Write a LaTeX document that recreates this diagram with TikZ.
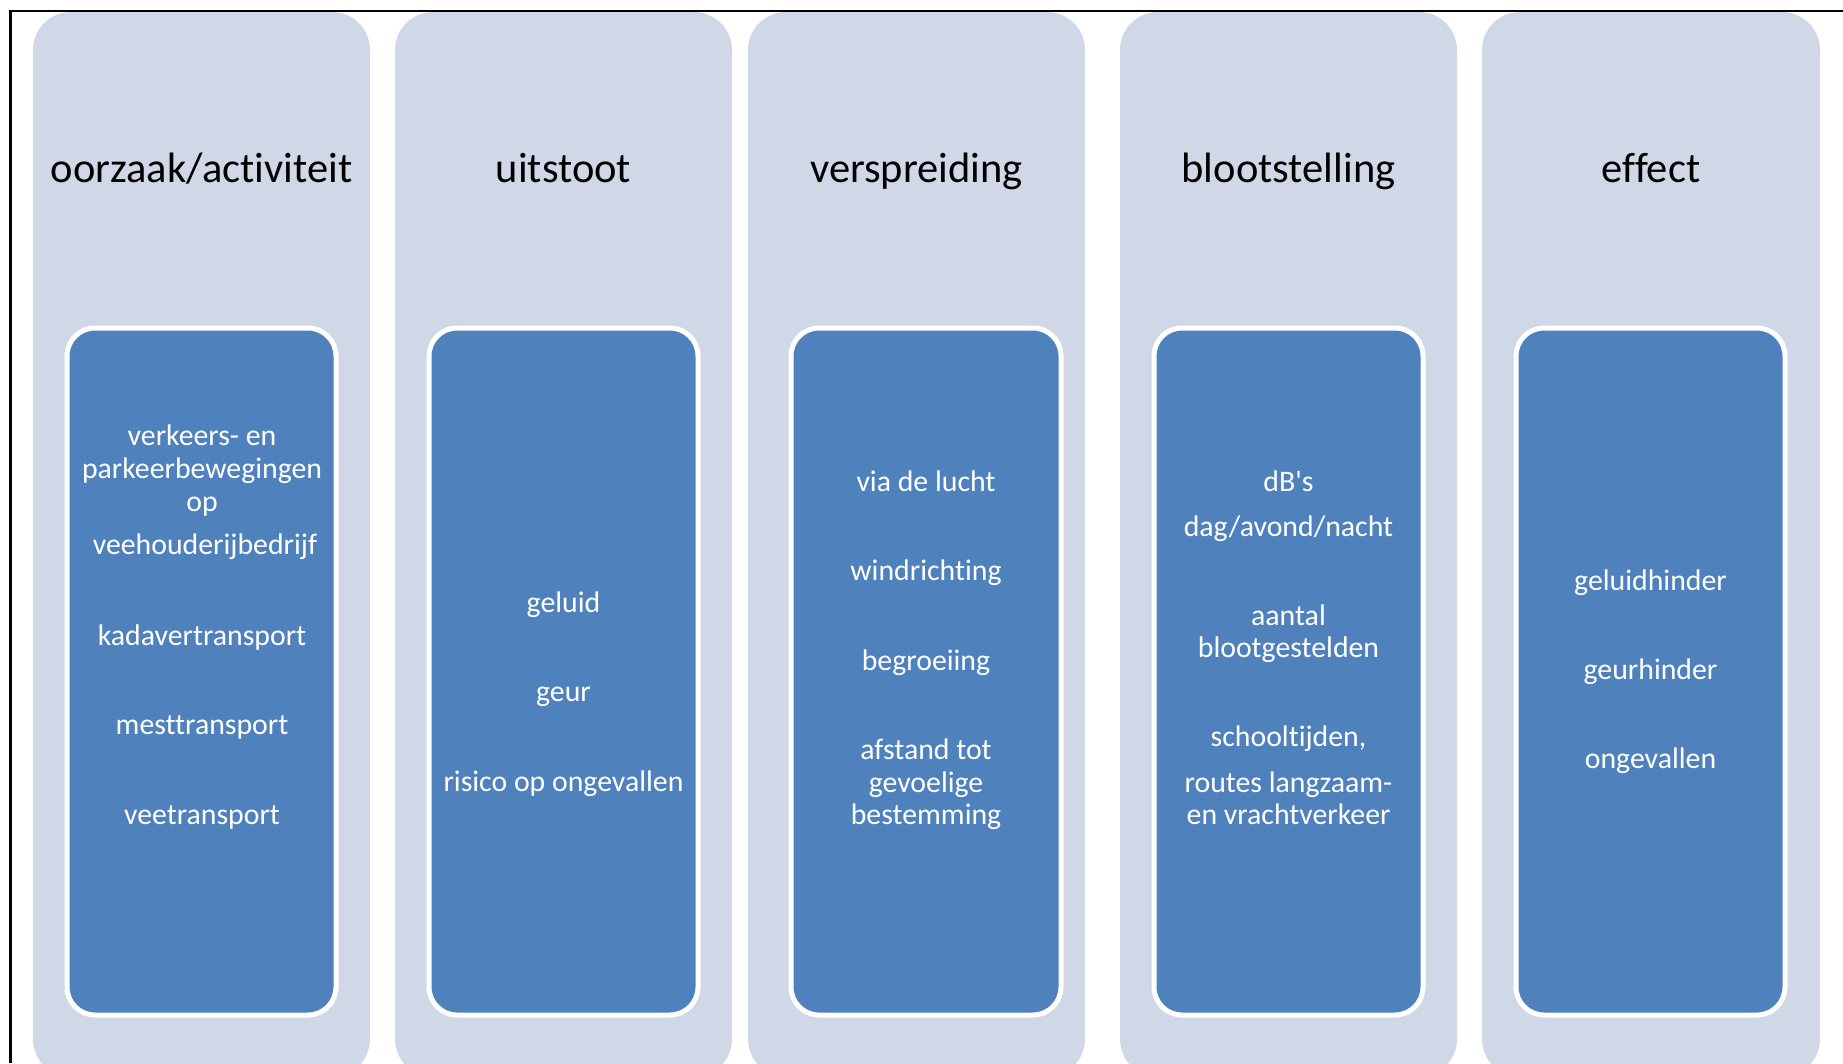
\documentclass[tikz,border=0pt]{standalone}
\usepackage{fontspec}
\setmainfont[Ligatures={NoCommon,TeXOff}]{Carlito}
\definecolor{colbg}{HTML}{D0D8E8}
\definecolor{boxblue}{HTML}{4F81BD}
\tikzset{
  colbox/.style={fill=colbg, rounded corners=38pt},
  inbox/.style={fill=boxblue, draw=white, line width=5pt, rounded corners=28pt},
  hdr/.style={font=\fontsize{42.5}{50}\selectfont, text=black, anchor=base, inner sep=0pt},
  itm/.style={font=\fontsize{29.8}{34}\selectfont, text=white, anchor=base, inner sep=0pt},
  frameline/.style={draw=black, line width=2.2pt}
}
\begin{document}
\begin{tikzpicture}[x=1pt,y=-1pt]
\useasboundingbox (0,0) rectangle (1843,1063);
\fill[white] (0,0) rectangle (1843,1063);
% columns
\path[colbox] (33,12) rectangle (370,1077);
\path[colbox] (395,12) rectangle (732,1077);
\path[colbox] (748,12) rectangle (1085,1077);
\path[colbox] (1120,12) rectangle (1457,1077);
\path[colbox] (1482,12) rectangle (1820,1077);
% frame
\draw[frameline] (10.5,1063) -- (10.5,11) -- (1843,11);
% inner boxes
\path[inbox] (67,328) rectangle (336,1015);
\path[inbox] (429,328) rectangle (698,1015);
\path[inbox] (791,328) rectangle (1061,1015);
\path[inbox] (1154,328) rectangle (1423,1015);
\path[inbox] (1516,328) rectangle (1785,1015);
% headers
\node[hdr] (h1) at (201.5,182) {oorzaak/activiteit};
\node[hdr] (h2) at (563.5,182) {uitstoot};
\node[hdr] (h3) at (916.5,182) {verspreiding};
\node[hdr] (h4) at (1288.5,182) {blootstelling};
\node[hdr] (h5) at (1651,182) {effect};
% column 1
\node[itm] (a1) at (202,445) {verkeers- en};
\node[itm] (a2) at (202,478) {parkeerbewegingen};
\node[itm] (a3) at (202,511) {op};
\node[itm] (a4) at (205,554) {veehouderijbedrijf};
\node[itm] (a5) at (202,645) {kadavertransport};
\node[itm] (a6) at (202,734) {mesttransport};
\node[itm] (a7) at (202,824) {veetransport};
% column 2
\node[itm] (b1) at (563.5,612) {geluid};
\node[itm] (b2) at (563.5,701) {geur};
\node[itm] (b3) at (563.5,791) {risico op ongevallen};
% column 3
\node[itm] (c1) at (926,491) {via de lucht};
\node[itm] (c2) at (926,580) {windrichting};
\node[itm] (c3) at (926,670) {begroeiing};
\node[itm] (c4) at (926,759) {afstand tot};
\node[itm] (c5) at (926,792) {gevoelige};
\node[itm] (c6) at (926,824) {bestemming};
% column 4
\node[itm] (d1) at (1288.5,491) {dB's};
\node[itm] (d2) at (1288.5,536) {dag/avond/nacht};
\node[itm] (d3) at (1288.5,625) {aantal};
\node[itm] (d4) at (1288.5,657) {blootgestelden};
\node[itm] (d5) at (1288.5,746) {schooltijden,};
\node[itm] (d6) at (1288.5,792) {routes langzaam-};
\node[itm] (d7) at (1288.5,824) {en vrachtverkeer};
% column 5
\node[itm] (e1) at (1650.5,590) {geluidhinder};
\node[itm] (e2) at (1650.5,679) {geurhinder};
\node[itm] (e3) at (1650.5,768) {ongevallen};
\end{tikzpicture}
\end{document}
